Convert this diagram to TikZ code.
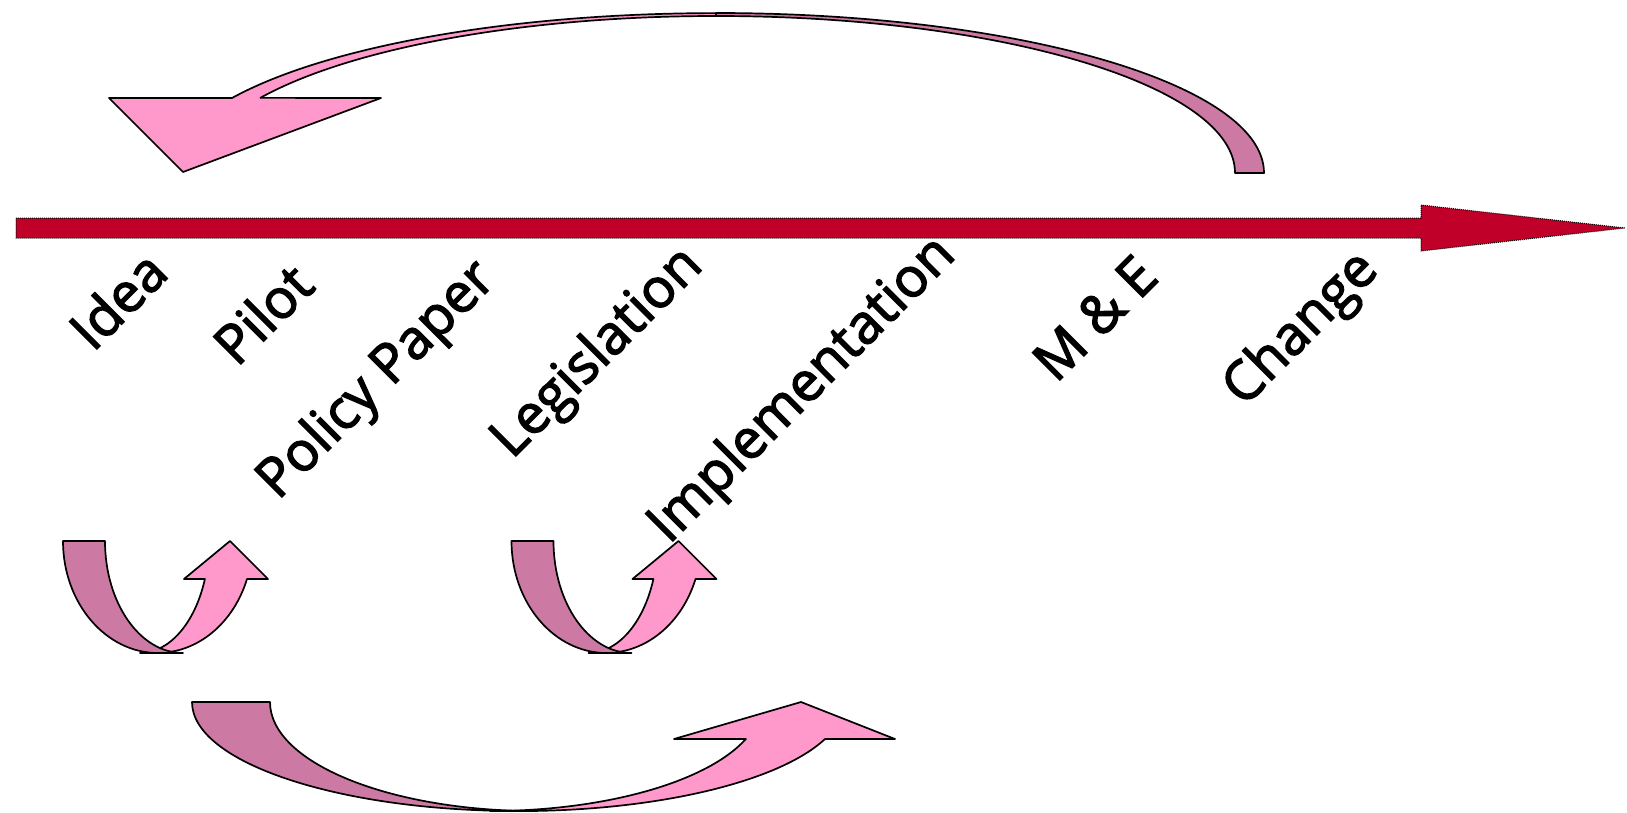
\documentclass[tikz,border=0pt]{standalone}
\usepackage{fontspec}
\setmainfont{Open Sans}
\newfontfamily\lblfont{Open Sans}[FakeBold=2.5]
\definecolor{lightpink}{RGB}{255,153,204}
\definecolor{mauve}{RGB}{204,122,163}
\definecolor{crimson}{RGB}{192,0,40}
\tikzset{
  lightpart/.style={fill=lightpink,draw=black,line width=1.7pt,line join=round},
  darkpart/.style={fill=mauve,draw=black,line width=1.7pt,line join=round},
  mainarrow/.style={fill=crimson,draw=black,densely dotted,line width=1pt},
  lbl/.style={anchor=base west,rotate=45,inner sep=0pt,font=\lblfont\fontsize{54.5}{60}\selectfont}
}
\newcommand\uarrowshape{%
  \filldraw[lightpart] (140,-653) arc[start angle=270,end angle=340.2,x radius=69,y radius=112]
    -- (184,-579) -- (230,-541) -- (268,-579) -- (247,-579)
    arc[start angle=340.1,end angle=270,x radius=95,y radius=112] -- cycle;
  \filldraw[darkpart] (63,-541) arc[start angle=180,end angle=270,x radius=95,y radius=112]
    -- (183,-653) arc[start angle=270,end angle=180,x radius=78,y radius=112] -- cycle;
}
\begin{document}
\begin{tikzpicture}[x=1pt,y=1pt]
\useasboundingbox (0,0) rectangle (1627,-812);
% main timeline arrow
\filldraw[mainarrow] (16,-218) -- (1421,-218) -- (1421,-205) -- (1625,-228)
  -- (1421,-251) -- (1421,-238) -- (16,-238) -- cycle;
% top curved arrow (back to the start)
\filldraw[lightpart] (716,-16) arc[start angle=90,end angle=151.4,x radius=519,y radius=157]
  -- (381,-98) -- (183,-172) -- (109,-98) -- (232,-98)
  arc[start angle=152,end angle=90,x radius=548,y radius=160] -- cycle;
\filldraw[darkpart] (1264,-173) arc[start angle=0,end angle=90,x radius=548,y radius=160]
  -- (716,-16) arc[start angle=90,end angle=0,x radius=519,y radius=157] -- cycle;
% small U arrows
\begin{scope}\uarrowshape\end{scope}
\begin{scope}[xshift=448.5pt]\uarrowshape\end{scope}
% bottom wide arrow
\filldraw[lightpart] (490,-811) arc[start angle=270,end angle=340.2,x radius=272,y radius=109]
  -- (674,-739) -- (801,-702) -- (895,-739) -- (825,-739)
  arc[start angle=340.2,end angle=270,x radius=326,y radius=109] -- cycle;
\filldraw[darkpart] (192,-702) arc[start angle=180,end angle=270,x radius=326,y radius=109]
  -- (535,-811) arc[start angle=270,end angle=180,x radius=265,y radius=109] -- cycle;
% labels
\node[lbl] (idea) at (93,-353) {Idea};
\node[lbl] (pilot) at (237,-368) {Pilot};
\node[lbl] (policy) at (278,-501) {Policy Paper};
\node[lbl] (legis) at (512,-460) {Legislation};
\node[lbl] (impl) at (669,-545) {Implementation};
\node[lbl] (me) at (1056,-384) {M \& E};
\node[lbl] (change) at (1244,-408) {Change};
\end{tikzpicture}
\end{document}
